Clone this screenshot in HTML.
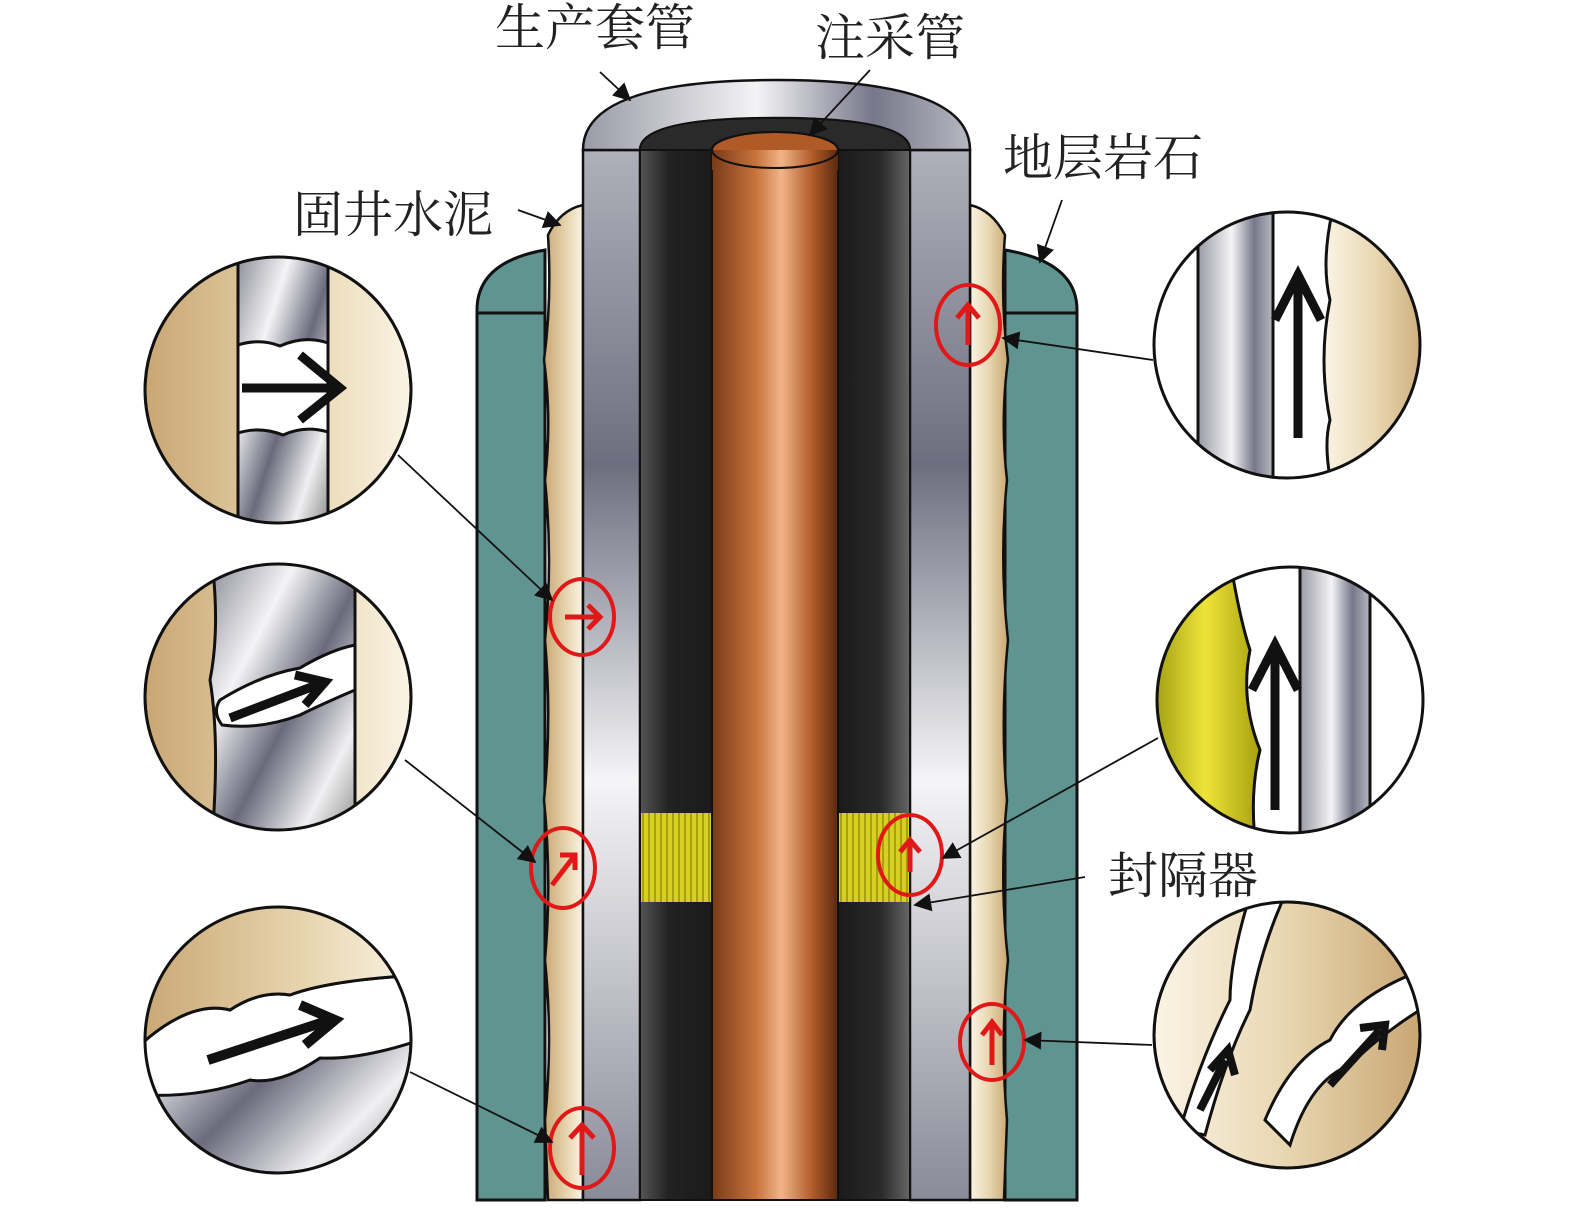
<!DOCTYPE html>
<html><head><meta charset="utf-8"><style>
html,body{margin:0;padding:0;background:#fff;}
svg{display:block;}
text{font-family:"Liberation Serif","Noto Serif CJK SC","Noto Sans CJK SC",serif;font-size:50px;fill:#222;}
</style></head><body>
<svg width="1575" height="1208" viewBox="0 0 1575 1208" xmlns="http://www.w3.org/2000/svg">
<defs>
<linearGradient id="metal" x1="0" y1="0" x2="1" y2="0">
<stop offset="0" stop-color="#9a9aa6"/><stop offset="0.45" stop-color="#f4f4f6"/><stop offset="0.75" stop-color="#77778a"/><stop offset="1" stop-color="#b8b8c2"/></linearGradient>
<linearGradient id="metalv" x1="0" y1="0" x2="0" y2="1">
<stop offset="0" stop-color="#b0b0ba"/><stop offset="0.3" stop-color="#6e6e80"/><stop offset="0.6" stop-color="#f5f5f7"/><stop offset="1" stop-color="#8a8a98"/></linearGradient>
<linearGradient id="dark" x1="0" y1="0" x2="1" y2="0">
<stop offset="0" stop-color="#555"/><stop offset="0.4" stop-color="#222"/><stop offset="1" stop-color="#1a1a1a"/></linearGradient>
<linearGradient id="darkr" x1="0" y1="0" x2="1" y2="0">
<stop offset="0" stop-color="#1a1a1a"/><stop offset="0.6" stop-color="#2a2a2a"/><stop offset="1" stop-color="#666"/></linearGradient>
<linearGradient id="copper" x1="0" y1="0" x2="1" y2="0">
<stop offset="0" stop-color="#7a3a18"/><stop offset="0.35" stop-color="#c8743c"/><stop offset="0.55" stop-color="#f0b488"/><stop offset="0.8" stop-color="#b05a28"/><stop offset="1" stop-color="#5a2a10"/></linearGradient>
<linearGradient id="cem" x1="0" y1="0" x2="1" y2="0">
<stop offset="0" stop-color="#c9a774"/><stop offset="0.6" stop-color="#e8d6b0"/><stop offset="1" stop-color="#fbf4e6"/></linearGradient>
<linearGradient id="cemr" x1="0" y1="0" x2="1" y2="0">
<stop offset="0" stop-color="#fbf4e6"/><stop offset="0.5" stop-color="#e8d6b0"/><stop offset="1" stop-color="#c9a774"/></linearGradient>
<linearGradient id="diag" x1="0" y1="0" x2="1" y2="1">
<stop offset="0" stop-color="#8a8a96"/><stop offset="0.3" stop-color="#f4f4f6"/><stop offset="0.55" stop-color="#6a6a7c"/><stop offset="0.8" stop-color="#f0f0f2"/><stop offset="1" stop-color="#888"/></linearGradient>
<linearGradient id="yelg" x1="0" y1="0" x2="1" y2="0">
<stop offset="0" stop-color="#9a9a10"/><stop offset="0.5" stop-color="#eee438"/><stop offset="1" stop-color="#a8a010"/></linearGradient>
<pattern id="stripe" width="6" height="10" patternUnits="userSpaceOnUse"><rect width="6" height="10" fill="#d8d020"/><rect width="2" height="10" fill="#a8a010"/></pattern>
<marker id="ah" markerWidth="10" markerHeight="10" refX="9" refY="5" orient="auto"><path d="M0,0 L10,5 L0,10 z" fill="#111"/></marker>
<clipPath id="c1"><circle cx="278" cy="390" r="133"/></clipPath>
<clipPath id="c2"><circle cx="278" cy="697" r="133"/></clipPath>
<clipPath id="c3"><circle cx="278" cy="1040" r="133"/></clipPath>
<clipPath id="c4"><circle cx="1287" cy="345" r="133"/></clipPath>
<clipPath id="c5"><circle cx="1290" cy="700" r="133"/></clipPath>
<clipPath id="c6"><circle cx="1287" cy="1035" r="133"/></clipPath>
</defs>

<!-- formation -->
<path d="M477,1200 L477,310 Q477,262 545,250 L545,1200 Z" fill="#5f9490" stroke="#111" stroke-width="3"/>
<path d="M1077,1200 L1077,310 Q1077,262 1005,250 L1005,1200 Z" fill="#5f9490" stroke="#111" stroke-width="3"/>
<line x1="477" y1="313" x2="545" y2="313" stroke="#111" stroke-width="3"/>
<line x1="1005" y1="313" x2="1077" y2="313" stroke="#111" stroke-width="3"/>

<!-- cement -->
<path d="M583,205 Q560,210 548,235 Q552,300 544,360 Q552,420 545,480 Q553,560 545,640 Q552,720 544,800 Q552,880 545,960 Q553,1040 545,1120 L548,1200 L583,1200 Z" fill="url(#cem)" stroke="#111" stroke-width="2.5"/>
<path d="M970,205 Q992,210 1005,235 Q1000,300 1008,360 Q1000,420 1007,480 Q999,560 1008,640 Q1000,720 1007,800 Q999,880 1008,960 Q1000,1040 1007,1120 L1004,1200 L970,1200 Z" fill="url(#cemr)" stroke="#111" stroke-width="2.5"/>

<!-- casings -->
<rect x="583" y="150" width="57" height="1050" fill="url(#metalv)" stroke="#111" stroke-width="2.5"/>
<rect x="910" y="150" width="60" height="1050" fill="url(#metalv)" stroke="#111" stroke-width="2.5"/>
<rect x="640" y="150" width="72" height="1050" fill="url(#dark)" stroke="#111" stroke-width="2"/>
<rect x="838" y="150" width="72" height="1050" fill="url(#darkr)" stroke="#111" stroke-width="2"/>
<rect x="712" y="150" width="126" height="1050" fill="url(#copper)" stroke="#111" stroke-width="2"/>

<!-- casing top -->
<path d="M583,150 Q583,80 776,80 Q970,80 970,150 L910,150 Q910,118 775,118 Q640,118 640,150 Z" fill="url(#metal)" stroke="#111" stroke-width="2.5"/>
<path d="M640,150 Q640,118 775,118 Q910,118 910,150 Z" fill="#2a2a2a" stroke="#111" stroke-width="2"/>
<ellipse cx="775" cy="150" rx="63" ry="18" fill="#b05a28" stroke="#111" stroke-width="2"/>
<rect x="712" y="150" width="126" height="20" fill="url(#copper)"/>
<ellipse cx="775" cy="150" rx="63" ry="18" fill="none" stroke="#111" stroke-width="2"/>

<!-- packers -->
<rect x="641" y="813" width="70" height="89" fill="url(#stripe)"/>
<rect x="839" y="813" width="70" height="89" fill="url(#stripe)"/>

<!-- red markers -->
<g fill="none" stroke="#e01818" stroke-width="4">
<ellipse cx="582" cy="617" rx="32" ry="38"/>
<ellipse cx="563" cy="868" rx="32" ry="40"/>
<ellipse cx="582" cy="1148" rx="32" ry="40"/>
<ellipse cx="968" cy="325" rx="32" ry="40"/>
<ellipse cx="910" cy="855" rx="32" ry="40"/>
<ellipse cx="992" cy="1042" rx="32" ry="38"/>
</g>
<g fill="none" stroke="#e01818" stroke-width="5">
<path d="M565,617 L600,617 M588,605 L600,617 L588,629"/>
<path d="M552,885 L575,855 M560,855 L575,855 L575,870"/>
<path d="M582,1175 L582,1125 M570,1138 L582,1125 L594,1138"/>
<path d="M968,345 L968,305 M957,318 L968,305 L979,318"/>
<path d="M910,872 L910,840 M900,852 L910,840 L920,852"/>
<path d="M992,1065 L992,1022 M982,1035 L992,1022 L1002,1035"/>
</g>

<!-- leader lines -->
<g stroke="#111" stroke-width="1.8" fill="none" marker-end="url(#ah)">
<line x1="600" y1="72" x2="630" y2="100"/>
<line x1="870" y1="70" x2="810" y2="135"/>
<line x1="518" y1="210" x2="560" y2="225"/>
<line x1="1062" y1="200" x2="1040" y2="262"/>
<line x1="398" y1="455" x2="552" y2="600"/>
<line x1="405" y1="760" x2="535" y2="862"/>
<line x1="410" y1="1072" x2="552" y2="1142"/>
<line x1="1153" y1="360" x2="1003" y2="338"/>
<line x1="1158" y1="738" x2="943" y2="858"/>
<line x1="1085" y1="877" x2="915" y2="905"/>
<line x1="1152" y1="1045" x2="1025" y2="1040"/>
</g>

<!-- magnified circles left -->
<g stroke="#111" stroke-width="3">
<g clip-path="url(#c1)">
<circle cx="278" cy="390" r="133" fill="url(#cem)"/>
<path d="M238,250 L238,530 L328,530 L328,250 Z" fill="url(#diag)"/>
<path d="M238,345 Q260,338 280,346 Q305,335 328,343 L328,432 Q305,425 283,435 Q260,426 238,433 Z" fill="#fff"/>
</g>
<circle cx="278" cy="390" r="133" fill="none"/>
<path d="M242,388 L335,388 M300,355 L340,388 L300,420" stroke-width="9" fill="none"/>

<g clip-path="url(#c2)">
<circle cx="278" cy="697" r="133" fill="url(#cem)"/>
<path d="M212,560 Q220,630 210,680 Q220,740 212,840 L355,840 L355,560 Z" fill="url(#diag)"/>
<path d="M220,700 Q260,675 300,668 Q330,650 355,645 L355,690 Q320,705 300,715 Q260,730 222,725 Q212,712 220,700 Z" fill="#fff"/>
</g>
<circle cx="278" cy="697" r="133" fill="none"/>
<path d="M230,718 L322,683 M295,675 L325,682 L305,705" stroke-width="9" fill="none"/>

<g clip-path="url(#c3)">
<circle cx="278" cy="1040" r="133" fill="url(#diag)"/>
<path d="M140,1045 Q190,1000 230,1010 Q260,990 290,995 Q330,980 420,975 L420,1040 Q360,1060 320,1058 Q280,1085 250,1080 Q200,1098 140,1095 Z" fill="#fff"/>
<path d="M140,900 L420,900 L420,975 Q330,980 290,995 Q260,990 230,1010 Q190,1000 140,1045 Z" fill="url(#cem)"/>
</g>
<circle cx="278" cy="1040" r="133" fill="none"/>
<path d="M208,1060 L330,1020 M300,1005 L335,1020 L305,1045" stroke-width="10" fill="none"/>
</g>

<!-- magnified circles right -->
<g stroke="#111" stroke-width="3">
<g clip-path="url(#c4)">
<rect x="1150" y="200" width="280" height="300" fill="#fff" stroke="none"/>
<rect x="1198" y="200" width="75" height="300" fill="url(#metal)"/>
<path d="M1335,200 Q1320,260 1330,300 Q1318,360 1330,420 Q1322,450 1335,500 L1430,500 L1430,200 Z" fill="url(#cemr)"/>
</g>
<circle cx="1287" cy="345" r="133" fill="none"/>
<path d="M1298,438 L1298,275 M1275,320 L1298,275 L1321,320" stroke-width="9" fill="none"/>

<g clip-path="url(#c5)">
<rect x="1150" y="560" width="280" height="280" fill="#fff" stroke="none"/>
<path d="M1150,560 L1230,560 Q1240,620 1250,650 Q1240,700 1260,750 Q1250,790 1255,840 L1150,840 Z" fill="url(#yelg)"/>
<rect x="1300" y="560" width="70" height="280" fill="url(#metal)"/>
</g>
<circle cx="1290" cy="700" r="133" fill="none"/>
<path d="M1275,810 L1275,645 M1252,690 L1275,645 L1298,690" stroke-width="9" fill="none"/>

<g clip-path="url(#c6)">
<circle cx="1287" cy="1035" r="133" fill="url(#cemr)"/>
<path d="M1250,895 Q1230,960 1230,1000 Q1200,1060 1180,1130 L1205,1135 Q1225,1060 1250,1010 Q1260,950 1285,895 Z" fill="#fff"/>
<path d="M1410,975 Q1350,1000 1330,1040 Q1290,1060 1265,1120 L1290,1145 Q1310,1080 1350,1065 Q1380,1035 1420,1010 Z" fill="#fff"/>
</g>
<circle cx="1287" cy="1035" r="133" fill="none"/>
<path d="M1200,1110 L1225,1060 M1210,1070 L1228,1050 L1235,1075" stroke-width="8" fill="none"/>
<path d="M1330,1085 L1380,1030 M1360,1028 L1385,1025 L1382,1050" stroke-width="8" fill="none"/>
</g>

<!-- labels -->
<text x="495" y="45">生产套管</text>
<text x="815" y="55">注采管</text>
<text x="1003" y="175">地层岩石</text>
<text x="293" y="232">固井水泥</text>
<text x="1108" y="893">封隔器</text>
</svg>
</body></html>
